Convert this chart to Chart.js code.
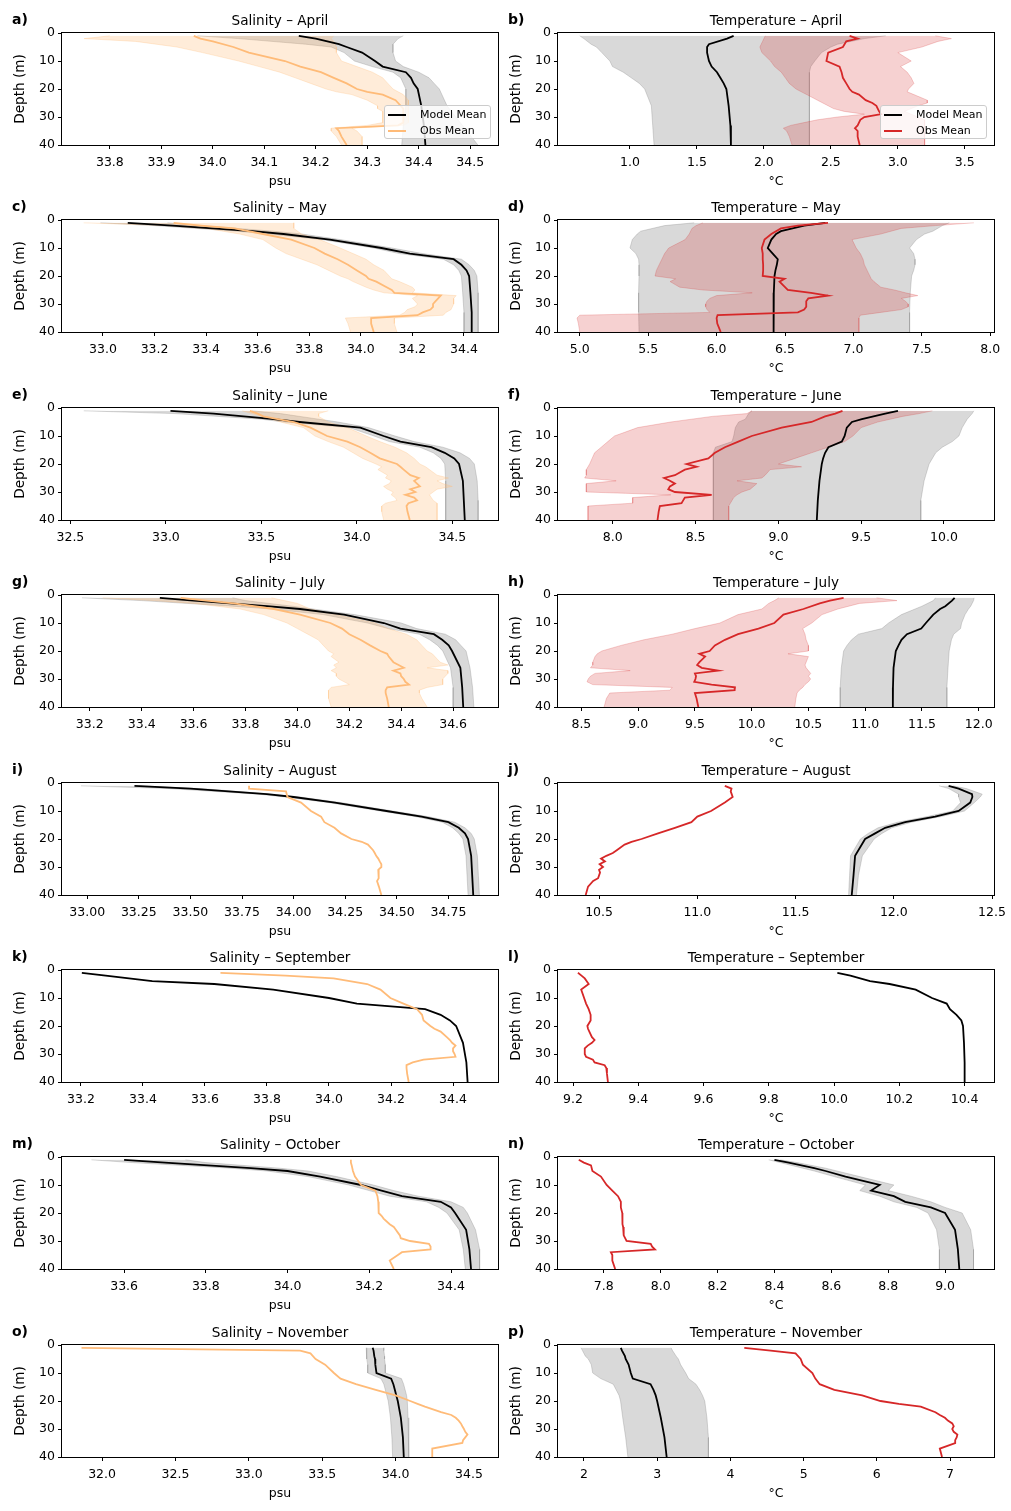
<!DOCTYPE html>
<html>
<head>
<meta charset="utf-8">
<script src="https://cdn.jsdelivr.net/npm/chart.js@4.4.1/dist/chart.umd.min.js"></script>
<style>
  html, body { margin: 0; padding: 0; background: #fff; }
  body { width: 1011px; height: 1511px; position: relative; overflow: hidden; font-family: "DejaVu Sans", sans-serif; color: #000; }
  .panel { position: absolute; width: 515px; height: 172px; }
  .ttl { position: absolute; width: 436px; text-align: center; font-size: 13.6px; line-height: 16px; white-space: nowrap; }
  .tag { position: absolute; font-size: 14px; font-weight: bold; line-height: 16px; }
  .legend { position: absolute; width: 107px; height: 34px; background: rgba(255,255,255,0.8); border: 1px solid #cccccc; border-radius: 3px; box-sizing: border-box; font-size: 11px; }
  .legend .row { position: absolute; left: 0; height: 14px; line-height: 14px; white-space: nowrap; }
  .legend .sample { position: absolute; left: 3px; top: 6px; width: 18px; height: 2px; }
  .legend .lbl { position: absolute; left: 35px; top: 0; }
</style>
</head>
<body>
<script>
// depth grids (m)
const modelDepth = [1, 2, 4, 5, 7, 10, 12, 14, 16, 18, 20, 26, 33, 40];
const obsDepth = [1, 2, 3, 5, 7, 10, 12, 14, 16, 18, 20, 21, 22, 24, 25, 26, 27, 28, 29, 30, 31, 32, 33, 34, 35, 37, 40];
const depthTicks = ["0", "10", "20", "30", "40"];

// a) Salinity - April
const salAprRange = [33.707, 34.554];
const salAprTicks = ["33.8", "33.9", "34.0", "34.1", "34.2", "34.3", "34.4", "34.5"];
const salAprModel = [34.167, 34.2, 34.245, 34.26, 34.29, 34.315, 34.33, 34.375, 34.385, 34.39, 34.398, 34.405, 34.41, 34.413];
const salAprModelLo = [33.97, 34.05, 34.18, 34.23, 34.255, 34.275, 34.31, 34.35, 34.365, 34.37, 34.375, 34.375, 34.37, 34.367];
const salAprModelHi = [34.37, 34.36, 34.35, 34.35, 34.35, 34.355, 34.37, 34.4, 34.42, 34.43, 34.44, 34.455, 34.485, 34.515];
const salAprObs = [33.963, 33.976, 34.0, 34.04, 34.07, 34.14, 34.17, 34.21, 34.235, 34.26, 34.28, 34.3, 34.33, 34.355, 34.36, 34.365, 34.37, 34.37, 34.37, 34.37, 34.37, 34.37, 34.36, 34.24, 34.245, 34.25, 34.26];
const salAprObsLo = [33.8, 33.75, 33.85, 33.93, 33.98, 34.05, 34.09, 34.13, 34.16, 34.19, 34.22, 34.24, 34.27, 34.3, 34.31, 34.32, 34.32, 34.33, 34.33, 34.33, 34.33, 34.33, 34.3, 34.23, 34.23, 34.24, 34.25];
const salAprObsHi = [34.235, 34.23, 34.235, 34.24, 34.24, 34.25, 34.28, 34.31, 34.33, 34.34, 34.35, 34.36, 34.37, 34.38, 34.38, 34.38, 34.38, 34.38, 34.38, 34.38, 34.38, 34.38, 34.37, 34.27, 34.28, 34.29, 34.29];

// b) Temperature - April
const tempAprRange = [0.463, 3.718];
const tempAprTicks = ["1.0", "1.5", "2.0", "2.5", "3.0", "3.5"];
const tempAprModel = [1.774, 1.725, 1.59, 1.576, 1.576, 1.59, 1.61, 1.65, 1.675, 1.7, 1.72, 1.737, 1.75, 1.754];
const tempAprModelLo = [0.625, 0.656, 0.71, 0.75, 0.79, 0.85, 0.87, 0.95, 1.01, 1.07, 1.11, 1.16, 1.17, 1.18];
const tempAprModelHi = [2.91, 2.75, 2.55, 2.5, 2.43, 2.38, 2.35, 2.34, 2.34, 2.34, 2.34, 2.34, 2.34, 2.34];
const tempAprObs = [2.64, 2.7, 2.615, 2.59, 2.48, 2.467, 2.565, 2.58, 2.59, 2.615, 2.64, 2.66, 2.71, 2.76, 2.81, 2.84, 2.85, 2.86, 2.875, 2.75, 2.72, 2.71, 2.7, 2.68, 2.7, 2.7, 2.715];
const tempAprObsLo = [2.01, 2.0, 1.99, 1.97, 1.985, 2.05, 2.08, 2.13, 2.16, 2.19, 2.24, 2.28, 2.32, 2.4, 2.44, 2.48, 2.52, 2.6, 2.75, 2.55, 2.4, 2.3, 2.2, 2.145, 2.17, 2.19, 2.21];
const tempAprObsHi = [3.28, 3.4, 3.3, 3.18, 3.0, 3.1, 3.02, 3.07, 3.1, 3.12, 3.08, 3.07, 3.12, 3.22, 3.22, 3.15, 3.1, 3.05, 3.1, 3.15, 3.2, 3.2, 3.2, 3.2, 3.2, 3.2, 3.2];

// c) Salinity - May
const salMayRange = [32.841, 34.532];
const salMayTicks = ["33.0", "33.2", "33.4", "33.6", "33.8", "34.0", "34.2", "34.4"];
const salMayModel = [33.096, 33.27, 33.58, 33.7, 33.88, 34.08, 34.19, 34.36, 34.39, 34.41, 34.42, 34.425, 34.43, 34.43];
const salMayModelLo = [32.99, 33.2, 33.52, 33.64, 33.85, 34.05, 34.15, 34.32, 34.36, 34.38, 34.39, 34.395, 34.4, 34.4];
const salMayModelHi = [33.25, 33.38, 33.66, 33.77, 33.92, 34.12, 34.24, 34.39, 34.42, 34.44, 34.45, 34.455, 34.455, 34.455];
const salMayObs = [33.274, 33.38, 33.51, 33.62, 33.73, 33.82, 33.86, 33.91, 33.95, 33.985, 34.02, 34.03, 34.06, 34.1, 34.12, 34.13, 34.31, 34.3, 34.29, 34.28, 34.28, 34.27, 34.24, 34.22, 34.04, 34.04, 34.05];
const salMayObsLo = [32.925, 33.25, 33.4, 33.53, 33.62, 33.67, 33.71, 33.77, 33.83, 33.875, 33.92, 33.95, 33.97, 34.02, 34.05, 34.09, 34.22, 34.2, 34.21, 34.22, 34.21, 34.18, 34.17, 34.15, 33.94, 33.95, 33.96];
const salMayObsHi = [33.74, 33.74, 33.74, 33.77, 33.84, 33.92, 33.97, 34.02, 34.05, 34.09, 34.11, 34.12, 34.15, 34.2, 34.21, 34.2, 34.37, 34.36, 34.36, 34.36, 34.355, 34.35, 34.33, 34.32, 34.13, 34.13, 34.14];

// d) Temperature - May
const tempMayRange = [4.841, 8.027];
const tempMayTicks = ["5.0", "5.5", "6.0", "6.5", "7.0", "7.5", "8.0"];
const tempMayModel = [6.795, 6.64, 6.47, 6.435, 6.4, 6.374, 6.41, 6.447, 6.44, 6.43, 6.423, 6.418, 6.417, 6.416];
const tempMayModelLo = [5.836, 5.62, 5.445, 5.42, 5.384, 5.367, 5.41, 5.43, 5.433, 5.433, 5.433, 5.43, 5.43, 5.433];
const tempMayModelHi = [7.7, 7.65, 7.58, 7.52, 7.46, 7.41, 7.44, 7.45, 7.45, 7.44, 7.425, 7.415, 7.41, 7.41];
const tempMayObs = [6.814, 6.594, 6.47, 6.4, 6.35, 6.33, 6.337, 6.337, 6.34, 6.34, 6.337, 6.496, 6.46, 6.5, 6.52, 6.69, 6.814, 6.67, 6.655, 6.655, 6.655, 6.64, 6.594, 6.007, 6.0, 6.005, 6.03];
const tempMayObsLo = [5.9, 5.85, 5.82, 5.8, 5.77, 5.65, 5.62, 5.6, 5.58, 5.56, 5.55, 5.7, 5.66, 5.73, 5.9, 6.26, 6.0, 5.95, 5.93, 5.92, 5.92, 5.93, 5.95, 5.0, 4.98, 4.99, 5.0];
const tempMayObsHi = [7.88, 7.6, 7.35, 7.2, 6.99, 7.02, 7.05, 7.07, 7.08, 7.1, 7.12, 7.13, 7.15, 7.2, 7.3, 7.38, 7.47, 7.35, 7.38, 7.4, 7.4, 7.35, 7.2, 7.05, 7.04, 7.04, 7.04];

// e) Salinity - June
const salJunRange = [32.456, 34.739];
const salJunTicks = ["32.5", "33.0", "33.5", "34.0", "34.5"];
const salJunModel = [33.024, 33.25, 33.565, 33.7, 34.018, 34.14, 34.228, 34.39, 34.46, 34.51, 34.535, 34.555, 34.56, 34.565];
const salJunModelLo = [32.57, 33.05, 33.5, 33.62, 33.96, 34.09, 34.17, 34.33, 34.4, 34.44, 34.46, 34.465, 34.465, 34.465];
const salJunModelHi = [33.45, 33.6, 33.8, 33.9, 34.06, 34.2, 34.3, 34.45, 34.54, 34.59, 34.615, 34.63, 34.635, 34.635];
const salJunObs = [33.44, 33.48, 33.51, 33.67, 33.757, 33.844, 33.95, 34.018, 34.07, 34.12, 34.21, 34.228, 34.245, 34.28, 34.324, 34.3, 34.315, 34.33, 34.28, 34.306, 34.254, 34.3, 34.315, 34.27, 34.26, 34.265, 34.277];
const salJunObsLo = [33.4, 33.45, 33.5, 33.6, 33.72, 33.78, 33.85, 33.93, 33.98, 34.03, 34.1, 34.13, 34.11, 34.16, 34.15, 34.18, 34.17, 34.14, 34.16, 34.19, 34.18, 34.2, 34.21, 34.15, 34.13, 34.13, 34.14];
const salJunObsHi = [33.85, 33.8, 33.8, 33.85, 33.95, 34.05, 34.12, 34.2, 34.26, 34.3, 34.33, 34.36, 34.38, 34.42, 34.48, 34.42, 34.45, 34.5, 34.42, 34.4, 34.38, 34.39, 34.4, 34.42, 34.42, 34.42, 34.42];

// f) Temperature - June
const tempJunRange = [7.669, 10.302];
const tempJunTicks = ["8.0", "8.5", "9.0", "9.5", "10.0"];
const tempJunModel = [9.722, 9.645, 9.504, 9.444, 9.413, 9.4, 9.383, 9.302, 9.282, 9.27, 9.262, 9.248, 9.238, 9.232];
const tempJunModelLo = [8.84, 8.82, 8.8, 8.76, 8.74, 8.73, 8.72, 8.62, 8.607, 8.607, 8.607, 8.607, 8.607, 8.607];
const tempJunModelHi = [10.18, 10.17, 10.14, 10.13, 10.11, 10.09, 10.05, 9.99, 9.95, 9.93, 9.91, 9.88, 9.86, 9.86];
const tempJunObs = [9.387, 9.343, 9.282, 9.2, 9.02, 8.839, 8.758, 8.677, 8.617, 8.577, 8.446, 8.506, 8.435, 8.375, 8.31, 8.345, 8.375, 8.345, 8.335, 8.375, 8.597, 8.435, 8.425, 8.415, 8.284, 8.277, 8.27];
const tempJunObsLo = [8.84, 8.81, 8.6, 8.35, 8.15, 8.01, 7.97, 7.93, 7.89, 7.875, 7.86, 7.85, 7.84, 7.84, 7.83, 8.02, 7.84, 7.84, 7.84, 7.84, 8.35, 8.12, 8.12, 8.12, 7.85, 7.85, 7.85];
const tempJunObsHi = [9.93, 9.85, 9.75, 9.6, 9.5, 9.45, 9.4, 9.3, 9.2, 9.1, 9.0, 9.14, 8.95, 8.92, 8.9, 8.75, 8.87, 8.85, 8.83, 8.78, 8.75, 8.73, 8.72, 8.71, 8.7, 8.7, 8.7];

// g) Salinity - July
const salJulRange = [33.093, 34.773];
const salJulTicks = ["33.2", "33.4", "33.6", "33.8", "34.0", "34.2", "34.4", "34.6"];
const salJulModel = [33.47, 33.6, 33.883, 34.01, 34.18, 34.333, 34.397, 34.526, 34.558, 34.583, 34.596, 34.628, 34.635, 34.639];
const salJulModelLo = [33.17, 33.4, 33.75, 33.9, 34.1, 34.27, 34.35, 34.47, 34.51, 34.54, 34.56, 34.59, 34.6, 34.6];
const salJulModelHi = [33.75, 33.8, 33.98, 34.06, 34.22, 34.4, 34.46, 34.57, 34.61, 34.63, 34.65, 34.665, 34.675, 34.68];
const salJulObs = [33.55, 33.65, 33.755, 33.91, 34.01, 34.127, 34.172, 34.2, 34.243, 34.28, 34.32, 34.346, 34.352, 34.37, 34.39, 34.41, 34.37, 34.397, 34.4, 34.41, 34.416, 34.43, 34.346, 34.34, 34.34, 34.346, 34.352];
const salJulObsLo = [33.25, 33.45, 33.6, 33.78, 33.87, 33.96, 34.0, 34.04, 34.08, 34.1, 34.12, 34.14, 34.13, 34.16, 34.14, 34.15, 34.13, 34.15, 34.15, 34.16, 34.18, 34.2, 34.13, 34.12, 34.12, 34.12, 34.13];
const salJulObsHi = [33.9, 33.95, 34.0, 34.05, 34.15, 34.3, 34.35, 34.42, 34.46, 34.48, 34.5, 34.52, 34.53, 34.55, 34.58, 34.5, 34.58, 34.58, 34.57, 34.56, 34.56, 34.56, 34.5, 34.47, 34.47, 34.48, 34.5];

// h) Temperature - July
const tempJulRange = [8.294, 12.135];
const tempJulTicks = ["8.5", "9.0", "9.5", "10.0", "10.5", "11.0", "11.5", "12.0"];
const tempJulModel = [11.788, 11.765, 11.706, 11.66, 11.6, 11.535, 11.494, 11.368, 11.32, 11.294, 11.27, 11.25, 11.245, 11.244];
const tempJulModelLo = [11.62, 11.6, 11.5, 11.44, 11.32, 11.206, 11.147, 10.94, 10.88, 10.84, 10.81, 10.79, 10.78, 10.78];
const tempJulModelHi = [11.96, 11.955, 11.93, 11.91, 11.88, 11.85, 11.84, 11.78, 11.76, 11.75, 11.74, 11.73, 11.72, 11.72];
const tempJulObs = [10.81, 10.69, 10.6, 10.456, 10.28, 10.2, 10.06, 9.88, 9.765, 9.676, 9.63, 9.54, 9.59, 9.54, 9.52, 9.56, 9.706, 9.5, 9.51, 9.505, 9.494, 9.647, 9.853, 9.85, 9.5, 9.515, 9.53];
const tempJulObsLo = [10.24, 10.2, 10.15, 10.09, 9.88, 9.72, 9.5, 9.3, 9.05, 8.85, 8.68, 8.64, 8.62, 8.6, 8.6, 8.58, 8.93, 8.62, 8.58, 8.56, 8.55, 8.6, 9.3, 9.28, 8.75, 8.72, 8.7];
const tempJulObsHi = [11.1, 11.28, 10.95, 10.76, 10.62, 10.53, 10.45, 10.47, 10.48, 10.5, 10.5, 10.32, 10.5, 10.48, 10.47, 10.48, 10.5, 10.52, 10.5, 10.52, 10.5, 10.47, 10.45, 10.42, 10.4, 10.39, 10.38];

// i) Salinity - August
const salAugRange = [32.878, 34.99];
const salAugTicks = ["33.00", "33.25", "33.50", "33.75", "34.00", "34.25", "34.50", "34.75"];
const salAugModel = [33.229, 33.5, 33.87, 34.0, 34.2, 34.45, 34.62, 34.75, 34.8, 34.83, 34.845, 34.86, 34.865, 34.87];
const salAugModelLo = [32.97, 33.4, 33.83, 33.96, 34.17, 34.42, 34.59, 34.72, 34.77, 34.8, 34.82, 34.835, 34.84, 34.845];
const salAugModelHi = [33.25, 33.55, 33.9, 34.03, 34.23, 34.48, 34.65, 34.78, 34.83, 34.86, 34.875, 34.89, 34.895, 34.9];
const salAugObs = [33.784, 33.784, 33.963, 33.97, 34.036, 34.084, 34.133, 34.149, 34.198, 34.23, 34.28, 34.33, 34.36, 34.385, 34.393, 34.4, 34.41, 34.417, 34.425, 34.425, 34.41, 34.413, 34.41, 34.413, 34.404, 34.413, 34.425];

// j) Temperature - August
const tempAugRange = [10.291, 12.51];
const tempAugTicks = ["10.5", "11.0", "11.5", "12.0", "12.5"];
const tempAugModel = [12.279, 12.33, 12.398, 12.4, 12.389, 12.33, 12.21, 12.058, 11.956, 11.905, 11.854, 11.803, 11.795, 11.786];
const tempAugModelLo = [12.23, 12.28, 12.33, 12.33, 12.34, 12.3, 12.17, 12.02, 11.92, 11.87, 11.83, 11.78, 11.775, 11.77];
const tempAugModelHi = [12.3, 12.37, 12.45, 12.44, 12.41, 12.36, 12.24, 12.09, 11.99, 11.94, 11.9, 11.84, 11.82, 11.81];
const tempAugObs = [11.14, 11.174, 11.17, 11.18, 11.14, 11.07, 11.0, 10.97, 10.886, 10.8, 10.716, 10.665, 10.63, 10.59, 10.57, 10.537, 10.51, 10.53, 10.503, 10.52, 10.5, 10.505, 10.5, 10.495, 10.47, 10.444, 10.432];

// k) Salinity - September
const salSepRange = [33.139, 34.545];
const salSepTicks = ["33.2", "33.4", "33.6", "33.8", "34.0", "34.2", "34.4"];
const salSepModel = [33.203, 33.28, 33.43, 33.63, 33.82, 34.0, 34.09, 34.31, 34.36, 34.39, 34.41, 34.432, 34.443, 34.447];
const salSepObs = [33.65, 33.86, 34.015, 34.123, 34.166, 34.198, 34.24, 34.284, 34.3, 34.305, 34.327, 34.34, 34.36, 34.38, 34.39, 34.397, 34.408, 34.4, 34.4, 34.405, 34.408, 34.305, 34.27, 34.25, 34.25, 34.252, 34.257];

// l) Temperature - September
const tempSepRange = [9.154, 10.49];
const tempSepTicks = ["9.2", "9.4", "9.6", "9.8", "10.0", "10.2", "10.4"];
const tempSepModel = [10.01, 10.05, 10.11, 10.17, 10.25, 10.3, 10.345, 10.355, 10.375, 10.39, 10.395, 10.398, 10.4, 10.4];
const tempSepObs = [9.215, 9.226, 9.236, 9.248, 9.225, 9.234, 9.24, 9.248, 9.254, 9.254, 9.244, 9.246, 9.25, 9.258, 9.266, 9.258, 9.245, 9.236, 9.236, 9.236, 9.24, 9.261, 9.266, 9.297, 9.302, 9.304, 9.307];

// m) Salinity - October
const salOctRange = [33.448, 34.515];
const salOctTicks = ["33.6", "33.8", "34.0", "34.2", "34.4"];
const salOctModel = [33.6, 33.7, 33.91, 34.0, 34.08, 34.18, 34.23, 34.28, 34.375, 34.4, 34.41, 34.437, 34.445, 34.449];
const salOctModelLo = [33.52, 33.62, 33.86, 33.95, 34.05, 34.15, 34.2, 34.25, 34.34, 34.37, 34.39, 34.42, 34.43, 34.435];
const salOctModelHi = [33.75, 33.8, 33.98, 34.05, 34.12, 34.21, 34.26, 34.32, 34.4, 34.43, 34.44, 34.46, 34.47, 34.47];
const salOctObs = [34.155, 34.155, 34.157, 34.16, 34.165, 34.18, 34.215, 34.22, 34.222, 34.223, 34.223, 34.23, 34.235, 34.25, 34.26, 34.265, 34.27, 34.275, 34.277, 34.3, 34.346, 34.35, 34.35, 34.28, 34.27, 34.25, 34.26];

// n) Temperature - October
const tempOctRange = [7.639, 9.172];
const tempOctTicks = ["7.8", "8.0", "8.2", "8.4", "8.6", "8.8", "9.0"];
const tempOctModel = [8.4, 8.45, 8.54, 8.58, 8.65, 8.77, 8.74, 8.82, 8.86, 8.95, 9.0, 9.035, 9.045, 9.05];
const tempOctModelLo = [8.38, 8.42, 8.5, 8.54, 8.61, 8.72, 8.7, 8.77, 8.82, 8.9, 8.94, 8.97, 8.98, 8.98];
const tempOctModelHi = [8.42, 8.48, 8.58, 8.62, 8.7, 8.82, 8.8, 8.88, 8.95, 9.0, 9.06, 9.09, 9.1, 9.1];
const tempOctObs = [7.712, 7.73, 7.755, 7.76, 7.79, 7.81, 7.83, 7.85, 7.86, 7.86, 7.865, 7.865, 7.865, 7.867, 7.868, 7.87, 7.87, 7.87, 7.875, 7.88, 7.965, 7.97, 7.98, 7.825, 7.83, 7.83, 7.84];

// o) Salinity - November
const salNovRange = [31.727, 34.698];
const salNovTicks = ["32.0", "32.5", "33.0", "33.5", "34.0", "34.5"];
const salNovModel = [33.844, 33.85, 33.855, 33.86, 33.862, 33.87, 33.97, 33.985, 33.995, 34.005, 34.015, 34.036, 34.05, 34.056];
const salNovModelLo = [33.8, 33.8, 33.805, 33.805, 33.81, 33.81, 33.9, 33.92, 33.93, 33.94, 33.95, 33.965, 33.975, 33.98];
const salNovModelHi = [33.92, 33.92, 33.925, 33.925, 33.93, 33.93, 34.04, 34.055, 34.065, 34.075, 34.08, 34.085, 34.09, 34.09];
const salNovObs = [31.86, 33.35, 33.42, 33.455, 33.52, 33.58, 33.625, 33.73, 33.865, 34.0, 34.1, 34.15, 34.2, 34.31, 34.38, 34.41, 34.43, 34.445, 34.455, 34.466, 34.475, 34.49, 34.475, 34.46, 34.455, 34.25, 34.25];

// p) Temperature - November
const tempNovRange = [1.646, 7.6];
const tempNovTicks = ["2", "3", "4", "5", "6", "7"];
const tempNovModel = [2.504, 2.52, 2.56, 2.57, 2.61, 2.64, 2.667, 2.91, 2.95, 2.98, 3.0, 3.05, 3.1, 3.13];
const tempNovModelLo = [1.96, 1.98, 2.02, 2.06, 2.1, 2.12, 2.23, 2.4, 2.44, 2.48, 2.5, 2.53, 2.57, 2.6];
const tempNovModelHi = [3.19, 3.21, 3.26, 3.29, 3.32, 3.39, 3.43, 3.53, 3.58, 3.62, 3.65, 3.68, 3.7, 3.7];
const tempNovObs = [4.19, 4.55, 4.89, 4.96, 4.99, 5.12, 5.16, 5.22, 5.42, 5.8, 6.05, 6.3, 6.6, 6.8, 6.86, 6.93, 6.97, 7.03, 7.05, 7.03, 7.05, 7.1, 7.09, 7.07, 7.07, 6.86, 6.89];

const FONT = "DejaVu Sans";
const COLORS = {
  model: "#000000",
  modelBand: "rgba(128,128,128,0.3)",
  sal: "#ffbb78",
  salBand: "rgba(255,187,120,0.28)",
  temp: "#d62728",
  tempBand: "rgba(214,39,40,0.21)",
};

const ROW_TOPS = [33, 220, 408, 595, 783, 970, 1157, 1345];
const COL_LEFTS = [62, 558];
const PLOT_W = 436;
const PLOT_H = 112;

const panels = [
  { tag: "a)", title: "Salinity – April", kind: "sal", range: salAprRange, ticks: salAprTicks, model: [salAprModel, salAprModelLo, salAprModelHi], obs: [salAprObs, salAprObsLo, salAprObsHi], legend: true },
  { tag: "b)", title: "Temperature – April", kind: "temp", range: tempAprRange, ticks: tempAprTicks, model: [tempAprModel, tempAprModelLo, tempAprModelHi], obs: [tempAprObs, tempAprObsLo, tempAprObsHi], legend: true },
  { tag: "c)", title: "Salinity – May", kind: "sal", range: salMayRange, ticks: salMayTicks, model: [salMayModel, salMayModelLo, salMayModelHi], obs: [salMayObs, salMayObsLo, salMayObsHi] },
  { tag: "d)", title: "Temperature – May", kind: "temp", range: tempMayRange, ticks: tempMayTicks, model: [tempMayModel, tempMayModelLo, tempMayModelHi], obs: [tempMayObs, tempMayObsLo, tempMayObsHi] },
  { tag: "e)", title: "Salinity – June", kind: "sal", range: salJunRange, ticks: salJunTicks, model: [salJunModel, salJunModelLo, salJunModelHi], obs: [salJunObs, salJunObsLo, salJunObsHi] },
  { tag: "f)", title: "Temperature – June", kind: "temp", range: tempJunRange, ticks: tempJunTicks, model: [tempJunModel, tempJunModelLo, tempJunModelHi], obs: [tempJunObs, tempJunObsLo, tempJunObsHi] },
  { tag: "g)", title: "Salinity – July", kind: "sal", range: salJulRange, ticks: salJulTicks, model: [salJulModel, salJulModelLo, salJulModelHi], obs: [salJulObs, salJulObsLo, salJulObsHi] },
  { tag: "h)", title: "Temperature – July", kind: "temp", range: tempJulRange, ticks: tempJulTicks, model: [tempJulModel, tempJulModelLo, tempJulModelHi], obs: [tempJulObs, tempJulObsLo, tempJulObsHi] },
  { tag: "i)", title: "Salinity – August", kind: "sal", range: salAugRange, ticks: salAugTicks, model: [salAugModel, salAugModelLo, salAugModelHi], obs: [salAugObs] },
  { tag: "j)", title: "Temperature – August", kind: "temp", range: tempAugRange, ticks: tempAugTicks, model: [tempAugModel, tempAugModelLo, tempAugModelHi], obs: [tempAugObs] },
  { tag: "k)", title: "Salinity – September", kind: "sal", range: salSepRange, ticks: salSepTicks, model: [salSepModel], obs: [salSepObs] },
  { tag: "l)", title: "Temperature – September", kind: "temp", range: tempSepRange, ticks: tempSepTicks, model: [tempSepModel], obs: [tempSepObs] },
  { tag: "m)", title: "Salinity – October", kind: "sal", range: salOctRange, ticks: salOctTicks, model: [salOctModel, salOctModelLo, salOctModelHi], obs: [salOctObs] },
  { tag: "n)", title: "Temperature – October", kind: "temp", range: tempOctRange, ticks: tempOctTicks, model: [tempOctModel, tempOctModelLo, tempOctModelHi], obs: [tempOctObs] },
  { tag: "o)", title: "Salinity – November", kind: "sal", range: salNovRange, ticks: salNovTicks, model: [salNovModel, salNovModelLo, salNovModelHi], obs: [salNovObs] },
  { tag: "p)", title: "Temperature – November", kind: "temp", range: tempNovRange, ticks: tempNovTicks, model: [tempNovModel, tempNovModelLo, tempNovModelHi], obs: [tempNovObs] },
];

// full box around the axes, like matplotlib spines
const framePlugin = {
  id: "frame",
  afterDatasetsDraw(chart) {
    const { ctx, chartArea: a } = chart;
    ctx.save();
    ctx.strokeStyle = "#000";
    ctx.lineWidth = 1;
    ctx.strokeRect(a.left - 0.5, a.top - 0.5, a.right - a.left + 1, a.bottom - a.top + 1);
    ctx.restore();
  },
};

function pts(depths, vals) {
  return vals.map((v, i) => ({ x: v, y: depths[i] }));
}

function lineSet(depths, vals, color, width, order) {
  return { data: pts(depths, vals), borderColor: color, borderWidth: width, fill: false, order, pointRadius: 0 };
}

function bandSets(depths, lo, hi, color, order) {
  return [
    { data: pts(depths, lo), borderColor: color, borderWidth: 1, backgroundColor: color, fill: false, order, pointRadius: 0 },
    { data: pts(depths, hi), borderColor: color, borderWidth: 1, backgroundColor: color, fill: "-1", order, pointRadius: 0 },
  ];
}

function tickAxis(extra) {
  return Object.assign({
    grid: { display: true, drawOnChartArea: false, drawTicks: true, tickLength: 4, color: "#000", lineWidth: 1 },
    border: { display: false },
  }, extra);
}

function addLegend(left, top, obsColor) {
  const box = document.createElement("div");
  box.className = "legend";
  box.style.left = left + "px";
  box.style.top = top + "px";
  const items = [["Model Mean", COLORS.model, 2], ["Obs Mean", obsColor, 18]];
  items.forEach(([label, color, y]) => {
    const row = document.createElement("div");
    row.className = "row";
    row.style.top = y + "px";
    row.innerHTML = `<span class="sample" style="background:${color}"></span><span class="lbl">${label}</span>`;
    box.appendChild(row);
  });
  document.body.appendChild(box);
}

function renderPanel(p, idx) {
  const col = idx % 2;
  const row = Math.floor(idx / 2);
  const left = COL_LEFTS[col];
  const top = ROW_TOPS[row];

  const wrap = document.createElement("div");
  wrap.className = "panel";
  wrap.style.left = (left - 62) + "px";
  wrap.style.top = (top - 10) + "px";
  const canvas = document.createElement("canvas");
  canvas.width = 515;
  canvas.height = 172;
  wrap.appendChild(canvas);
  document.body.appendChild(wrap);

  const title = document.createElement("div");
  title.className = "ttl";
  title.textContent = p.title;
  title.style.left = left + "px";
  title.style.top = (top - 21) + "px";
  document.body.appendChild(title);

  const tag = document.createElement("div");
  tag.className = "tag";
  tag.textContent = p.tag;
  tag.style.left = (col ? 508 : 12) + "px";
  tag.style.top = (top - 22) + "px";
  document.body.appendChild(tag);

  const obsColor = COLORS[p.kind];
  const obsBand = COLORS[p.kind + "Band"];
  const datasets = [];
  datasets.push(lineSet(obsDepth, p.obs[0], obsColor, 1.8, 0));
  datasets.push(lineSet(modelDepth, p.model[0], COLORS.model, 1.8, 1));
  if (p.obs.length > 1) datasets.push(...bandSets(obsDepth, p.obs[1], p.obs[2], obsBand, 2));
  if (p.model.length > 1) datasets.push(...bandSets(modelDepth, p.model[1], p.model[2], COLORS.modelBand, 3));

  const tickVals = p.ticks.map(Number);

  new Chart(canvas, {
    type: "line",
    data: { datasets },
    options: {
      indexAxis: "y",
      responsive: false,
      animation: false,
      devicePixelRatio: 1,
      layout: { padding: { top: 10, right: 515 - 62 - PLOT_W, left: 0, bottom: 0 } },
      elements: { line: { tension: 0 }, point: { radius: 0 } },
      plugins: { legend: { display: false }, tooltip: { enabled: false }, title: { display: false } },
      scales: {
        x: tickAxis({
          type: "linear",
          position: "bottom",
          min: p.range[0],
          max: p.range[1],
          afterBuildTicks: (s) => { s.ticks = tickVals.map((v) => ({ value: v })); },
          afterFit: (s) => { s.height = 50; s.paddingLeft = 0; s.paddingRight = 0; },
          ticks: {
            autoSkip: false, maxRotation: 0, padding: 6, color: "#000",
            font: { family: FONT, size: 12.5 },
            callback: (v, i) => p.ticks[i],
          },
          title: {
            display: true, text: p.kind === "sal" ? "psu" : "°C", color: "#000",
            font: { family: FONT, size: 12.5 }, padding: { top: 0, bottom: 5.8 },
          },
        }),
        y: tickAxis({
          type: "linear",
          position: "left",
          reverse: true,
          min: 0,
          max: 40,
          afterBuildTicks: (s) => { s.ticks = depthTicks.map((v) => ({ value: Number(v) })); },
          afterFit: (s) => { s.width = 62; s.paddingTop = 0; s.paddingBottom = 0; },
          ticks: {
            padding: 3, color: "#000",
            font: { family: FONT, size: 12.5 },
            callback: (v, i) => depthTicks[i],
          },
          title: {
            display: true, text: "Depth (m)", color: "#000",
            font: { family: FONT, size: 13.6 }, padding: { top: 12.6, bottom: 0 },
          },
        }),
      },
    },
    plugins: [framePlugin],
  });

  if (p.legend) addLegend(left + PLOT_W - 114, top + PLOT_H - 40, obsColor);
}

panels.forEach(renderPanel);
</script>
</body>
</html>
